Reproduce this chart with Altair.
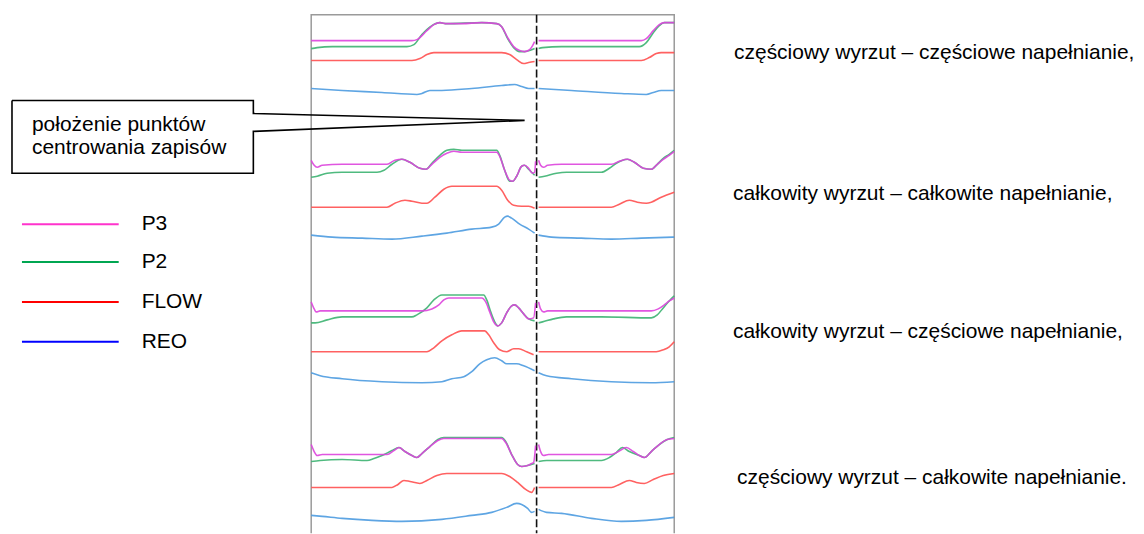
import altair as alt
import pandas as pd

# ---------------- data (page pixel coordinates) ----------------
SERIES = ["P3", "P2", "FLOW", "REO"]
TRACE_COLORS = ["#dd44dd", "#3cb371", "#ff5050", "#4d9be0"]
LEGEND_COLORS = ["#ff33cc", "#00a651", "#ff0000", "#0000ff"]
LEGEND_Y = [224, 262, 302, 342]

CAPTIONS = [
    "częściowy wyrzut – częściowe napełnianie,",
    "całkowity wyrzut – całkowite napełnianie,",
    "całkowity wyrzut – częściowe napełnianie,",
    "częściowy wyrzut – całkowite napełnianie.",
]
CAPTION_X = [733, 732, 732, 736]
CAPTION_Y = [52, 194, 332, 479]

CALLOUT_LINES = ["położenie punktów", "centrowania zapisów"]
CALLOUT_LINE_Y = [125, 148]
CALLOUT_X = [9, 251, 251, 523, 251, 251, 9, 9]
CALLOUT_Y = [100, 100, 113, 120, 131, 173, 173, 100]

FRAME_X = [309, 309, 673, 673]
FRAME_Y = [534, 14, 14, 534]
CENTER_X = 535

# Panel 1
P1_P3_L = [(309,40),(330,40),(410,40),(415,39),(425,30),(432,24),(438,22),(445,23),(460,23),(480,22),(495,23),(500,26),(506,37),(512,46),(518,50),(523,51),(528,49),(531,45),(533,41)]
P1_P3_R = [(537,40),(600,40),(640,40),(645,38),(652,30),(658,24),(663,22),(673,22)]
P1_P2_L = [(309,48),(315,47),(330,46),(405,46),(412,44),(420,34),(430,25),(438,22),(445,23),(480,22),(495,23),(500,26),(506,38),(512,47),(518,51),(523,51),(528,50),(533,48)]
P1_P2_R = [(537,48),(541,47),(560,46),(638,46),(645,42),(652,32),(658,25),(663,22),(673,22)]
P1_FL_L = [(309,60),(410,60),(418,58),(425,54),(432,52),(500,52),(508,54),(515,59),(522,63),(527,62),(533,61)]
P1_FL_R = [(537,60),(640,60),(648,57),(655,53),(660,52),(673,52)]
P1_RE_L = [(309,88),(340,90),(380,92),(415,94),(420,93),(428,90),(440,90),(470,88),(500,85),(513,84),(520,86),(527,88),(533,88)]
P1_RE_R = [(537,88),(570,90),(620,93),(645,94),(652,92),(660,90),(673,90)]

# Panel 2
P2_P3_L = [(309,160),(312,165),(315,167),(320,165),(340,164),(385,164),(393,160),(400,159),(408,162),(418,168),(424,169),(430,164),(438,157),(445,153),(452,151),(460,152),(495,152),(498,156),(503,170),(508,180),(511,181),(515,176),(520,166),(523,165),(527,168),(531,173),(533,172),(534,161)]
P2_P3_R = [(537,160),(539,165),(542,167),(546,165),(560,164),(610,164),(618,161),(626,159),(633,162),(642,168),(650,169),(656,164),(662,159),(668,155),(673,151)]
P2_P2_L = [(309,177),(315,176),(325,173),(340,172),(375,172),(382,170),(390,164),(400,159),(408,162),(418,168),(424,169),(430,163),(438,155),(445,150),(452,149),(460,150),(495,150),(498,155),(503,170),(508,181),(511,181),(515,176),(520,166),(523,165),(527,169),(533,175)]
P2_P2_R = [(537,177),(543,176),(555,173),(565,172),(600,172),(608,168),(615,163),(626,159),(633,162),(642,168),(650,169),(656,164),(662,158),(668,154),(673,150)]
P2_FL_L = [(309,207),(385,207),(393,203),(403,200),(410,201),(420,203),(425,203),(433,197),(442,189),(450,186),(495,186),(500,190),(506,200),(512,205),(520,206),(527,206),(533,208)]
P2_FL_R = [(537,207),(610,207),(618,204),(628,200),(636,202),(645,203),(650,202),(660,197),(673,192)]
P2_RE_L = [(309,235),(330,237),(360,238),(390,239),(420,236),(445,233),(470,229),(490,227),(497,224),(503,217),(506,216),(510,218),(518,224),(527,229),(533,233)]
P2_RE_R = [(537,235),(550,237),(580,238),(610,239),(640,238),(673,237)]

# Panel 3
P3_P3_L = [(309,302),(312,309),(314,312),(318,311),(340,311),(420,311),(430,309),(437,305),(442,300),(447,298),(480,298),(484,302),(488,312),(492,322),(496,326),(500,323),(505,313),(510,306),(513,305),(517,308),(522,314),(527,319),(532,318),(534,303)]
P3_P3_R = [(537,302),(539,309),(542,312),(546,311),(570,311),(650,311),(657,309),(663,305),(668,301),(673,298)]
P3_P2_L = [(309,323),(313,323),(325,320),(340,317),(380,317),(410,317),(415,315),(425,308),(432,300),(440,295),(450,295),(482,295),(485,300),(489,312),(493,322),(496,326),(500,323),(505,313),(510,306),(513,305),(517,308),(522,314),(527,319),(533,321)]
P3_P2_R = [(537,323),(541,322),(552,319),(565,317),(600,317),(650,318),(656,315),(662,308),(668,301),(673,296)]
P3_FL_L = [(309,352),(425,352),(432,348),(440,341),(450,335),(460,331),(483,331),(487,335),(492,343),(498,350),(505,352),(512,349),(517,349),(525,352),(532,355)]
P3_FL_R = [(537,352),(655,352),(662,350),(668,347),(673,342)]
P3_RE_L = [(309,373),(318,376),(340,379),(380,382),(420,383),(440,382),(450,379),(462,377),(470,372),(478,364),(485,360),(493,358),(500,361),(505,364),(515,364),(522,366),(533,371)]
P3_RE_R = [(537,373),(545,376),(570,379),(610,382),(650,383),(673,382)]

# Panel 4
P4_P3_L = [(309,445),(312,452),(315,456),(320,455),(340,455),(385,455),(392,451),(397,448),(403,452),(410,456),(415,458),(420,454),(428,447),(436,441),(442,439),(500,439),(504,443),(510,455),(516,465),(520,467),(526,466),(530,464),(532,463),(534,446)]
P4_P3_R = [(537,445),(539,452),(542,456),(547,455),(580,455),(610,455),(617,452),(625,448),(632,452),(638,456),(643,458),(650,452),(658,445),(666,440),(673,439)]
P4_P2_L = [(309,462),(318,461),(340,460),(365,461),(372,459),(380,456),(390,451),(397,448),(403,452),(410,456),(415,458),(420,454),(428,447),(436,440),(442,438),(500,438),(504,442),(510,455),(516,465),(520,467),(526,466),(533,464)]
P4_P2_R = [(537,462),(545,461),(560,461),(600,461),(608,458),(615,453),(621,448),(628,452),(638,456),(643,458),(650,452),(658,445),(666,440),(673,438)]
P4_FL_L = [(309,488),(390,488),(396,485),(402,481),(408,482),(418,484),(425,481),(435,476),(445,474),(500,474),(508,477),(516,483),(524,490),(530,493),(533,488)]
P4_FL_R = [(537,488),(610,488),(618,485),(628,481),(635,483),(643,484),(652,480),(662,476),(673,474)]
P4_RE_L = [(309,516),(320,517),(340,519),(370,521),(400,522),(440,520),(470,516),(490,513),(505,508),(515,504),(520,505),(526,509),(530,513),(533,512)]
P4_RE_R = [(537,510),(545,513),(560,514),(590,519),(620,522),(645,521),(673,518)]

TRACES = [
    (1, "P3", P1_P3_L, P1_P3_R), (1, "P2", P1_P2_L, P1_P2_R), (1, "FLOW", P1_FL_L, P1_FL_R), (1, "REO", P1_RE_L, P1_RE_R),
    (2, "P3", P2_P3_L, P2_P3_R), (2, "P2", P2_P2_L, P2_P2_R), (2, "FLOW", P2_FL_L, P2_FL_R), (2, "REO", P2_RE_L, P2_RE_R),
    (3, "P3", P3_P3_L, P3_P3_R), (3, "P2", P3_P2_L, P3_P2_R), (3, "FLOW", P3_FL_L, P3_FL_R), (3, "REO", P3_RE_L, P3_RE_R),
    (4, "P3", P4_P3_L, P4_P3_R), (4, "P2", P4_P2_L, P4_P2_R), (4, "FLOW", P4_FL_L, P4_FL_R), (4, "REO", P4_RE_L, P4_RE_R),
]

# ---------------- build tables ----------------
rows = []
for panel, name, left, right in TRACES:
    for seg, pts in (("L", left), ("R", right)):
        for i, (x, y) in enumerate(pts):
            rows.append({"x": x, "y": y, "series": name, "key": f"{panel}-{name}-{seg}", "i": i})
traces = pd.DataFrame(rows)

W, H = 1128, 518
xs = alt.Scale(domain=[8, 8 + W], nice=False, zero=False)
ys = alt.Scale(domain=[8, 8 + H], nice=False, zero=False, reverse=True)
X = lambda f="x": alt.X(f"{f}:Q", scale=xs, axis=None)
Y = lambda f="y": alt.Y(f"{f}:Q", scale=ys, axis=None)

FONT = "Liberation Sans"

frame = alt.Chart(pd.DataFrame({"x": FRAME_X, "y": FRAME_Y, "o": range(4)})).mark_line(
    color="#9a9a9a", strokeWidth=1.5
).encode(x=X(), y=Y(), order="o:Q")

center = alt.Chart(pd.DataFrame({"x": [CENTER_X, CENTER_X], "y": [14, 534], "o": [0, 1]})).mark_line(
    color="#111111", strokeWidth=1.6, strokeDash=[8, 3]
).encode(x=X(), y=Y(), order="o:Q")

# one layer per series, drawn so that P3 ends up on top
trace_layers = []
for name, col in reversed(list(zip(SERIES, TRACE_COLORS))):
    trace_layers.append(
        alt.Chart(traces).transform_filter(alt.datum.series == name).mark_line(
            strokeWidth=1.6, interpolate="monotone", opacity=0.9, color=col
        ).encode(x=X(), y=Y(), detail="key:N", order="i:Q")
    )

callout = alt.Chart(pd.DataFrame({"x": CALLOUT_X, "y": CALLOUT_Y, "o": range(len(CALLOUT_X))})).mark_line(
    color="#000000", strokeWidth=1.6
).encode(x=X(), y=Y(), order="o:Q")

callout_text = alt.Chart(pd.DataFrame({"t": CALLOUT_LINES, "y": CALLOUT_LINE_Y, "x": [29, 29]})).mark_text(
    align="left", baseline="middle", font=FONT, fontSize=21, color="#000000"
).encode(x=X(), y=Y(), text="t:N")

leg = pd.DataFrame({"series": SERIES, "y": LEGEND_Y, "x1": [19] * 4, "x2": [116] * 4, "tx": [139] * 4})
legend_lines = alt.Chart(leg).mark_rule(strokeWidth=2).encode(
    x=X("x1"), x2="x2:Q", y=Y(),
    color=alt.Color("series:N", scale=alt.Scale(domain=SERIES, range=LEGEND_COLORS), legend=None),
)
legend_text = alt.Chart(leg).mark_text(
    align="left", baseline="middle", font=FONT, fontSize=21, color="#000000"
).encode(x=X("tx"), y=Y(), text="series:N")

captions = alt.Chart(pd.DataFrame({"t": CAPTIONS, "x": CAPTION_X, "y": CAPTION_Y})).mark_text(
    align="left", baseline="middle", font=FONT, fontSize=21, color="#000000"
).encode(x=X(), y=Y(), text="t:N")

chart = alt.layer(
    frame, center, *trace_layers, callout, callout_text, legend_lines, legend_text, captions
).properties(
    width=W, height=H, padding=0, background="white"
).configure_view(stroke=None)

chart.save("out.html", embed_options={"renderer": "svg", "actions": False})
